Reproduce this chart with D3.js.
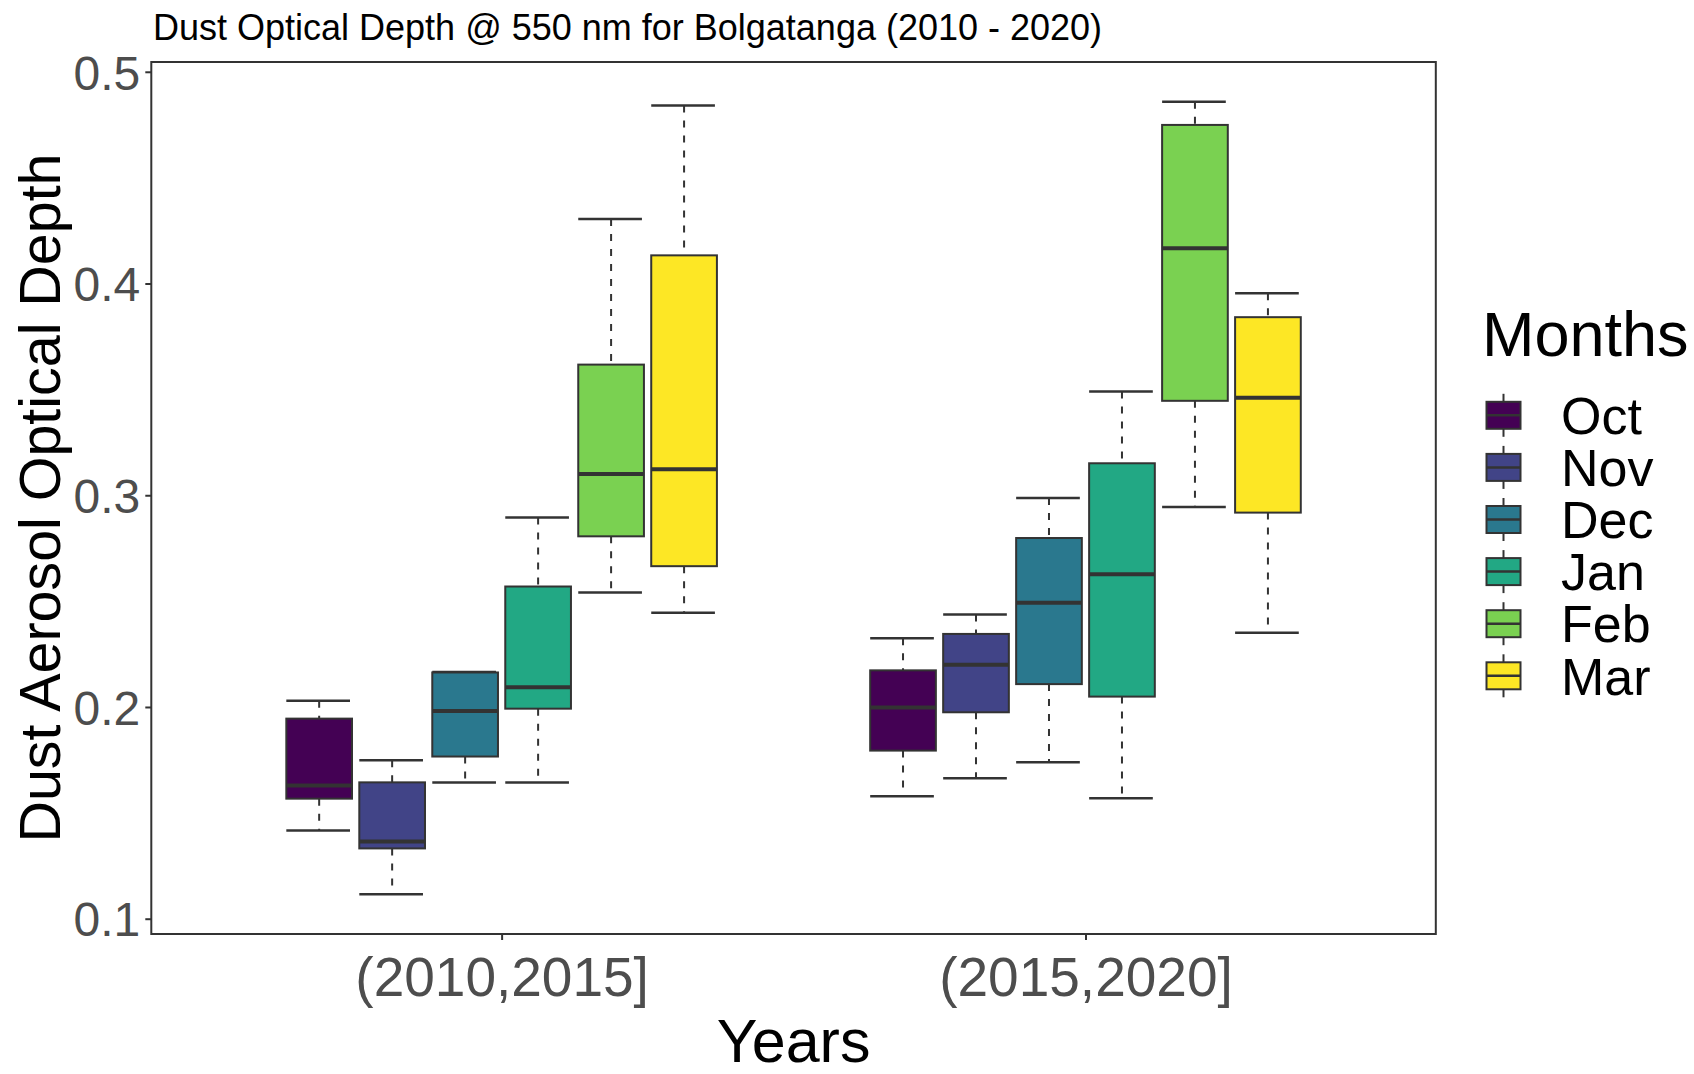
<!DOCTYPE html>
<html>
<head>
<meta charset="utf-8">
<script src="https://cdn.jsdelivr.net/npm/d3@7/dist/d3.min.js"></script>
<style>
  html, body { margin: 0; padding: 0; background: #ffffff; }
  svg { display: block; font-family: "Liberation Sans", Arial, sans-serif; }
</style>
</head>
<body>
<svg id="chart" width="1694" height="1074"></svg>
<script>
// ---------------- DATA ----------------
const months = ["Oct", "Nov", "Dec", "Jan", "Feb", "Mar"];
const groups = ["(2010,2015]", "(2015,2020]"];
const monthColors = ["#440154", "#414487", "#2A788E", "#22A884", "#7AD151", "#FDE725"];
const yTicks = [0.1, 0.2, 0.3, 0.4, 0.5];

// Five-number summaries per group (order follows months)
const lowA    = [0.1417, 0.1115, 0.1643, 0.1643, 0.2541, 0.2445];
const q1A     = [0.1567, 0.1332, 0.1766, 0.1992, 0.2806, 0.2665];
const medA    = [0.1629, 0.1365, 0.1981, 0.2093, 0.3100, 0.3123];
const q3A     = [0.1945, 0.1644, 0.2163, 0.2569, 0.3617, 0.4133];
const highA   = [0.2030, 0.1748, 0.2165, 0.2895, 0.4305, 0.4841];

const lowB    = [0.1578, 0.1663, 0.1739, 0.1569, 0.2945, 0.2350];
const q1B     = [0.1794, 0.1975, 0.2108, 0.2049, 0.3446, 0.2918];
const medB    = [0.1997, 0.2200, 0.2492, 0.2627, 0.4167, 0.3460];
const q3B     = [0.2173, 0.2345, 0.2798, 0.3151, 0.4749, 0.3841];
const highB   = [0.2325, 0.2437, 0.2987, 0.3490, 0.4859, 0.3954];

const titleText = "Dust Optical Depth @ 550 nm for Bolgatanga (2010 - 2020)";
const yTitle = "Dust Aerosol Optical Depth";
const xTitle = "Years";
const legendTitle = "Months";

// ---------------- BUILD RECORDS ----------------
const summaries = [
  {low: lowA, q1: q1A, med: medA, q3: q3A, high: highA},
  {low: lowB, q1: q1B, med: medB, q3: q3B, high: highB}
];
const boxes = [];
groups.forEach((g, gi) => {
  months.forEach((m, mi) => {
    const s = summaries[gi];
    boxes.push({group: g, month: m, low: s.low[mi], q1: s.q1[mi], med: s.med[mi], q3: s.q3[mi], high: s.high[mi]});
  });
});

// ---------------- LAYOUT ----------------
const panel = {left: 151.3, right: 1435.8, top: 62, bottom: 934};
const svg = d3.select("#chart");

const allVals = boxes.flatMap(b => [b.low, b.high]);
const vmin = d3.min(allVals), vmax = d3.max(allVals);
const pad = (vmax - vmin) * 0.05;
const y = d3.scaleLinear().domain([vmin - pad, vmax + pad]).range([panel.bottom, panel.top]);

const x = d3.scalePoint().domain(groups).range([panel.left, panel.right]).padding(0.6);
const step = x.step();
const xInner = d3.scaleBand().domain(months).range([-0.375 * step, 0.375 * step])
  .paddingInner(0.1).paddingOuter(0.05);
const color = d3.scaleOrdinal().domain(months).range(monthColors);

const ink = "#333333";

// ---------------- PANEL ----------------
svg.append("rect")
  .attr("x", panel.left).attr("y", panel.top)
  .attr("width", panel.right - panel.left).attr("height", panel.bottom - panel.top)
  .attr("fill", "#ffffff");

// ---------------- BOXES ----------------
const bw = xInner.bandwidth();
const gBoxes = svg.append("g");
const bx = gBoxes.selectAll("g.box").data(boxes).join("g").attr("class", "box")
  .attr("transform", d => `translate(${x(d.group) + xInner(d.month)},0)`);

// whiskers (dashed)
bx.append("line")
  .attr("x1", bw / 2).attr("x2", bw / 2)
  .attr("y1", d => y(d.high)).attr("y2", d => y(d.q3))
  .attr("stroke", ink).attr("stroke-width", 2).attr("stroke-dasharray", "7,8");
bx.append("line")
  .attr("x1", bw / 2).attr("x2", bw / 2)
  .attr("y1", d => y(d.q1)).attr("y2", d => y(d.low))
  .attr("stroke", ink).attr("stroke-width", 2).attr("stroke-dasharray", "7,8");
// caps
bx.append("line")
  .attr("x1", 0).attr("x2", bw - 2)
  .attr("y1", d => y(d.high)).attr("y2", d => y(d.high))
  .attr("stroke", ink).attr("stroke-width", 2.5);
bx.append("line")
  .attr("x1", 0).attr("x2", bw - 2)
  .attr("y1", d => y(d.low)).attr("y2", d => y(d.low))
  .attr("stroke", ink).attr("stroke-width", 2.5);
// box
bx.append("rect")
  .attr("x", 0).attr("width", bw)
  .attr("y", d => y(d.q3)).attr("height", d => y(d.q1) - y(d.q3))
  .attr("fill", d => color(d.month))
  .attr("stroke", ink).attr("stroke-width", 2);
// median
bx.append("line")
  .attr("x1", 0).attr("x2", bw)
  .attr("y1", d => y(d.med)).attr("y2", d => y(d.med))
  .attr("stroke", ink).attr("stroke-width", 4);

// ---------------- BORDER ----------------
svg.append("rect")
  .attr("x", panel.left).attr("y", panel.top)
  .attr("width", panel.right - panel.left).attr("height", panel.bottom - panel.top)
  .attr("fill", "none").attr("stroke", ink).attr("stroke-width", 2);

// ---------------- AXES ----------------
const yAxis = svg.append("g").attr("transform", `translate(${panel.left},0)`)
  .call(d3.axisLeft(y).tickValues(yTicks).tickSize(6).tickPadding(5).tickFormat(d3.format(".1f")));
yAxis.select(".domain").remove();
yAxis.selectAll(".tick line").attr("stroke", ink).attr("stroke-width", 2);
yAxis.selectAll(".tick text")
  .attr("font-size", 48).attr("fill", "#4D4D4D")
  .attr("font-family", "Liberation Sans, Arial, sans-serif")
  .attr("dy", "0.36em");

const xAxis = svg.append("g").attr("transform", `translate(0,${panel.bottom})`)
  .call(d3.axisBottom(x).tickSize(6).tickPadding(17));
xAxis.select(".domain").remove();
xAxis.selectAll(".tick line").attr("stroke", ink).attr("stroke-width", 2);
xAxis.selectAll(".tick text")
  .attr("font-size", 55).attr("fill", "#4D4D4D")
  .attr("font-family", "Liberation Sans, Arial, sans-serif");

// ---------------- TITLES ----------------
svg.append("text").attr("x", 153).attr("y", 40).attr("font-size", 36).attr("fill", "#000")
  .text(titleText);
svg.append("text").attr("x", (panel.left + panel.right) / 2).attr("y", 1062)
  .attr("text-anchor", "middle").attr("font-size", 61).attr("fill", "#000")
  .text(xTitle);
svg.append("text")
  .attr("transform", `translate(60,${(panel.top + panel.bottom) / 2}) rotate(-90)`)
  .attr("text-anchor", "middle").attr("font-size", 57.4).attr("fill", "#000")
  .text(yTitle);

// ---------------- LEGEND ----------------
const legend = svg.append("g");
legend.append("text").attr("x", 1482).attr("y", 356).attr("font-size", 63).attr("fill", "#000")
  .text(legendTitle);
const keyX = 1503.5, keyY0 = 415.3, keyStep = 52.1, keyW = 34, keyH = 27;
const items = legend.selectAll("g.item").data(months).join("g").attr("class", "item")
  .attr("transform", (d, i) => `translate(${keyX},${keyY0 + i * keyStep})`);
items.append("line").attr("x1", 0).attr("x2", 0).attr("y1", -21.5).attr("y2", 21.5)
  .attr("stroke", ink).attr("stroke-width", 2);
items.append("rect").attr("x", -keyW / 2).attr("y", -keyH / 2).attr("width", keyW).attr("height", keyH)
  .attr("fill", d => color(d)).attr("stroke", ink).attr("stroke-width", 2);
items.append("line").attr("x1", -keyW / 2).attr("x2", keyW / 2).attr("y1", 0).attr("y2", 0)
  .attr("stroke", ink).attr("stroke-width", 2.5);
items.append("text").attr("x", 1561 - keyX).attr("y", 0).attr("dy", "0.36em")
  .attr("font-size", 52).attr("fill", "#000").text(d => d);
</script>
</body>
</html>
